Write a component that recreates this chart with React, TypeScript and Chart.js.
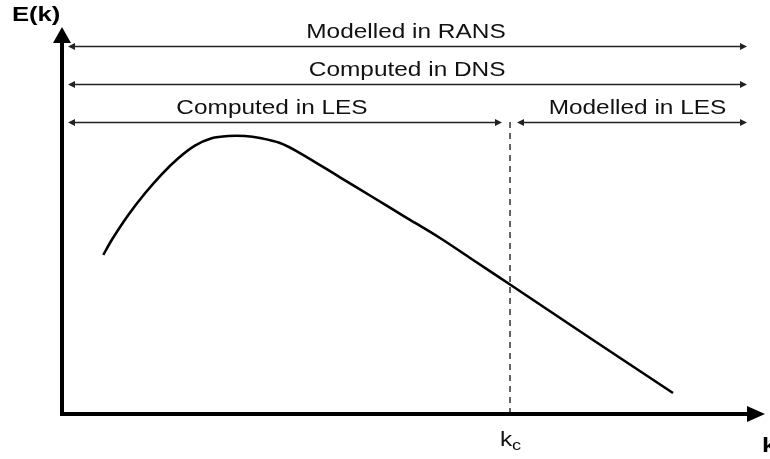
import React, { useEffect, useRef } from "react";
import { Chart, registerables } from "chart.js";

Chart.register(...registerables);

// Energy spectrum curve E(k) (arbitrary units, 0..100 both axes)
const curveK = [5.87, 7.07, 9.43, 11.81, 14.18, 16.54, 18.91, 21.29, 23.66, 26.03, 28.17, 31.01, 33.85, 39.54, 44.28, 48.79, 53.77, 58.75, 63.73, 75.11, 86.91];
const curveE = [41.09, 44.96, 51.42, 57.03, 61.94, 66.07, 69.33, 71.24, 71.83, 71.83, 71.32, 70.03, 67.44, 61.16, 55.94, 50.96, 45.48, 39.48, 33.46, 19.64, 5.43];

// Cut-off wavenumber
const kc = 63.73;
const kcTop = 76.49;

// Range arrows
const arrowLabels = ["Modelled in RANS", "Computed in DNS", "Computed in LES", "Modelled in LES"];
const arrowStart = [0.85, 0.85, 0.85, 64.72];
const arrowEnd = [97.44, 97.44, 62.59, 97.44];
const arrowLevel = [95.09, 85.27, 75.58, 75.58];
const labelCenter = [48.93, 49.1, 29.87, 81.86];

const yTitle = "E(k)";
const xTitle = "k";
const kcMain = "k";
const kcSub = "c";

const FONT = "'Liberation Sans', Arial, sans-serif";
const SX = 1.22;

function stretchedText(ctx: CanvasRenderingContext2D, text: string, x: number, y: number, align: "left" | "center") {
  ctx.save();
  ctx.translate(x, y);
  ctx.scale(SX, 1);
  ctx.textAlign = align;
  ctx.textBaseline = "alphabetic";
  ctx.fillText(text, 0, 0);
  ctx.restore();
}

const diagramPlugin = {
  id: "diagram",
  afterDatasetsDraw(chart: any) {
    const ctx: CanvasRenderingContext2D = chart.ctx;
    const xs = chart.scales.x;
    const ys = chart.scales.y;
    const x0 = xs.getPixelForValue(0);
    const y0 = ys.getPixelForValue(0);
    const xMax = xs.getPixelForValue(100);
    const yMax = ys.getPixelForValue(100);

    ctx.save();
    // axes
    ctx.strokeStyle = "#000";
    ctx.fillStyle = "#000";
    ctx.lineWidth = 4;
    ctx.lineCap = "butt";
    ctx.beginPath();
    ctx.moveTo(x0, y0 + 2);
    ctx.lineTo(x0, yMax + 12);
    ctx.moveTo(x0 - 2, y0);
    ctx.lineTo(xMax - 14, y0);
    ctx.stroke();
    // y arrowhead
    ctx.beginPath();
    ctx.moveTo(x0, yMax);
    ctx.lineTo(x0 - 9, yMax + 16);
    ctx.lineTo(x0 + 9, yMax + 16);
    ctx.closePath();
    ctx.fill();
    // x arrowhead
    ctx.beginPath();
    ctx.moveTo(xMax, y0);
    ctx.lineTo(xMax - 18, y0 - 8);
    ctx.lineTo(xMax - 18, y0 + 8);
    ctx.closePath();
    ctx.fill();

    // range arrows
    ctx.lineWidth = 1.6;
    for (let i = 0; i < arrowLabels.length; i++) {
      const a = xs.getPixelForValue(arrowStart[i]);
      const b = xs.getPixelForValue(arrowEnd[i]);
      const y = Math.round(ys.getPixelForValue(arrowLevel[i])) + 0.5;
      ctx.strokeStyle = "#222";
      ctx.fillStyle = "#222";
      ctx.beginPath();
      ctx.moveTo(a + 4, y);
      ctx.lineTo(b - 4, y);
      ctx.stroke();
      ctx.beginPath();
      ctx.moveTo(a, y);
      ctx.lineTo(a + 7, y - 3.5);
      ctx.lineTo(a + 7, y + 3.5);
      ctx.closePath();
      ctx.fill();
      ctx.beginPath();
      ctx.moveTo(b, y);
      ctx.lineTo(b - 7, y - 3.5);
      ctx.lineTo(b - 7, y + 3.5);
      ctx.closePath();
      ctx.fill();
      ctx.fillStyle = "#111";
      ctx.font = "20px " + FONT;
      stretchedText(ctx, arrowLabels[i], xs.getPixelForValue(labelCenter[i]), y - 9, "center");
    }

    // titles
    ctx.fillStyle = "#000";
    ctx.font = "bold 21px " + FONT;
    stretchedText(ctx, yTitle, 12, 21, "left");
    stretchedText(ctx, xTitle, xMax - 3, y0 + 38, "left");

    // k_c label
    const kx = xs.getPixelForValue(kc);
    ctx.fillStyle = "#111";
    ctx.font = "20px " + FONT;
    stretchedText(ctx, kcMain, kx - 10, y0 + 32, "left");
    ctx.font = "15px " + FONT;
    stretchedText(ctx, kcSub, kx + 2, y0 + 36, "left");
    ctx.restore();
  },
};

export default function App() {
  const ref = useRef<HTMLCanvasElement>(null);
  useEffect(() => {
    if (!ref.current) return;
    const chart = new Chart(ref.current, {
      type: "line",
      data: {
        datasets: [
          {
            data: curveK.map((k, i) => ({ x: k, y: curveE[i] })),
            borderColor: "#000",
            borderWidth: 2.6,
            pointRadius: 0,
            tension: 0.3,
            fill: false,
          },
          {
            data: [
              { x: kc, y: 0 },
              { x: kc, y: kcTop },
            ],
            borderColor: "#222",
            borderWidth: 1.4,
            borderDash: [6, 5],
            pointRadius: 0,
            fill: false,
          },
        ],
      },
      options: {
        animation: false,
        responsive: true,
        maintainAspectRatio: false,
        devicePixelRatio: 1,
        layout: { padding: { left: 62, right: 5, top: 27, bottom: 45 } },
        scales: {
          x: { type: "linear", min: 0, max: 100, display: false },
          y: { type: "linear", min: 0, max: 100, display: false },
        },
        plugins: { legend: { display: false }, tooltip: { enabled: false } },
      },
      plugins: [diagramPlugin],
    });
    return () => chart.destroy();
  }, []);
  return (
    <div style={{ position: "absolute", left: 0, top: 0, width: 770, height: 459, background: "#fff" }}>
      <canvas ref={ref} />
    </div>
  );
}
